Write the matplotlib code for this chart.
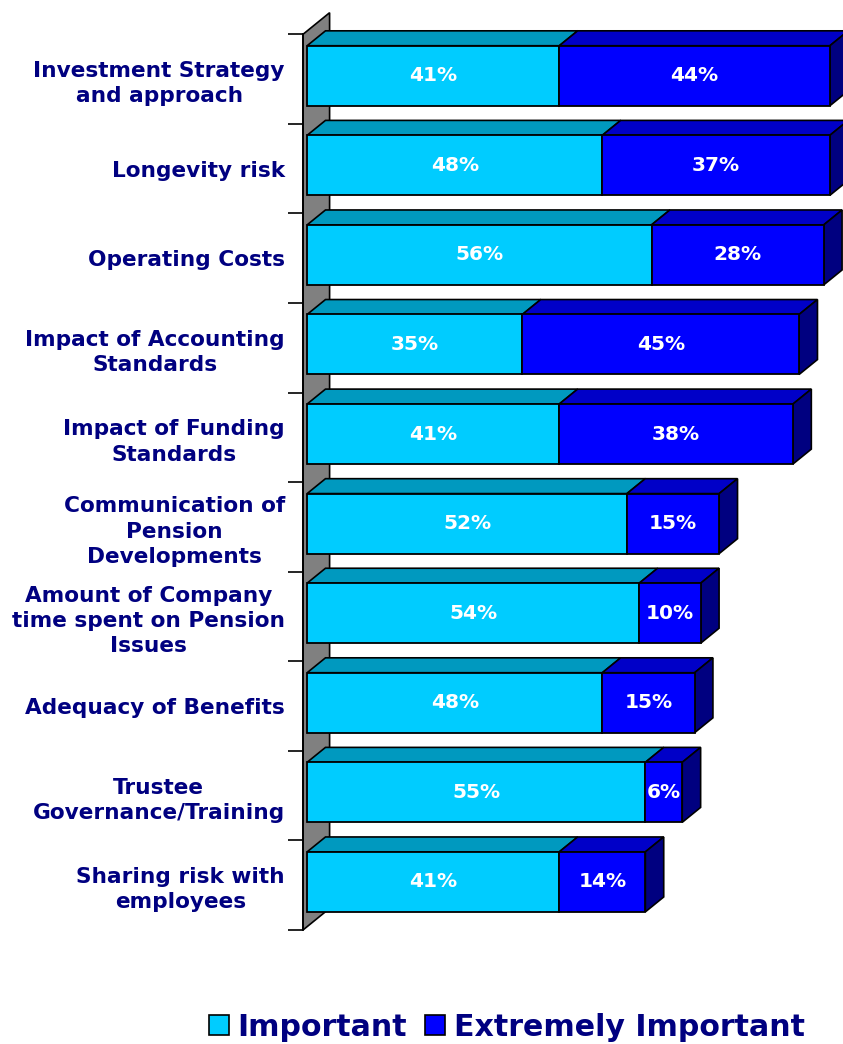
import numpy as np
import matplotlib
matplotlib.use("Agg")
import matplotlib.pyplot as plt
from matplotlib.patches import Polygon, Patch

# Survey results: share of respondents rating each issue
categories = [
    "Investment Strategy\nand approach",
    "Longevity risk",
    "Operating Costs",
    "Impact of Accounting\nStandards",
    "Impact of Funding\nStandards",
    "Communication of\nPension\nDevelopments",
    "Amount of Company\ntime spent on Pension\nIssues",
    "Adequacy of Benefits",
    "Trustee\nGovernance/Training",
    "Sharing risk with\nemployees",
]
important = [41, 48, 56, 35, 41, 52, 54, 48, 55, 41]
extremely_important = [44, 37, 28, 45, 38, 15, 10, 15, 6, 14]
series_names = ["Important", "Extremely Important"]

# Colours: front / top / side faces per series
front_cols = ["#00CCFF", "#0000FF"]
top_cols = ["#0099BF", "#0000C8"]
side_cols = ["#008099", "#000080"]
wall_col = "#808080"
text_col = "#000080"

plt.rcParams["font.family"] = ["DejaVu Sans"]

W, H = 843, 1044
fig = plt.figure(figsize=(W / 100, H / 100), dpi=100)
px_per_pct = 6.15
top_px, bot_px, left_px = 34.3, 930.0, 303.0
ax = fig.add_axes([left_px / W, (H - bot_px) / H, (W - left_px) / W, (bot_px - top_px) / H])
n = len(categories)
ax.set_xlim(0, (W - left_px) / px_per_pct)
ax.set_ylim(n - 0.5, -0.5)

# 3-D depth expressed in data units (full depth of the floor/wall)
slot_px = (bot_px - top_px) / n
DX = 26.6 / px_per_pct
DY = -21.6 / slot_px
d_front, d_back = 0.155, 0.845
bar_h = 0.67

# back wall
wall = Polygon([(0, -0.5), (DX, -0.5 + DY), (DX, n - 0.5 + DY), (0, n - 0.5)],
               closed=True, facecolor=wall_col, edgecolor="black", lw=1.2,
               clip_on=False, zorder=1)
ax.add_patch(wall)

fx, fy = DX * d_front, DY * d_front
bx, by = DX * d_back, DY * d_back
y = np.arange(n)
imp = np.array(important, dtype=float)
ext = np.array(extremely_important, dtype=float)
segments = [(np.zeros(n), imp), (imp, ext)]

for s, (lefts, widths) in enumerate(segments):
    for i in range(n):
        x0 = lefts[i] + fx
        x1 = lefts[i] + widths[i] + fx
        yt = y[i] - bar_h / 2 + fy
        yb = y[i] + bar_h / 2 + fy
        sx, sy = bx - fx, by - fy
        top = Polygon([(x0, yt), (x1, yt), (x1 + sx, yt + sy), (x0 + sx, yt + sy)],
                      closed=True, facecolor=top_cols[s], edgecolor="black",
                      lw=1.2, clip_on=False, zorder=2)
        ax.add_patch(top)
        if s == len(segments) - 1:
            side = Polygon([(x1, yt), (x1 + sx, yt + sy), (x1 + sx, yb + sy), (x1, yb)],
                           closed=True, facecolor=side_cols[s], edgecolor="black",
                           lw=1.2, clip_on=False, zorder=2)
            ax.add_patch(side)
    bars = ax.barh(y + fy, widths, left=lefts + fx, height=bar_h,
                   color=front_cols[s], edgecolor="black", lw=1.3,
                   zorder=3, clip_on=False)
    for i, b in enumerate(bars):
        ax.text(lefts[i] + widths[i] / 2 + fx, y[i] + fy, f"{widths[i]:.0f}%",
                ha="center", va="center", color="white", fontsize=14.5,
                fontweight="bold", zorder=4, clip_on=False)

# axes decoration
for sp in ["top", "right", "bottom"]:
    ax.spines[sp].set_visible(False)
ax.spines["left"].set_linewidth(1.3)
ax.spines["left"].set_zorder(1.5)
ax.set_xticks([])
ax.set_yticks(np.arange(-0.5, n, 1))
ax.set_yticklabels([])
ax.tick_params(axis="y", which="major", length=10.8, width=1.2, direction="out")
ax.set_yticks(y, minor=True)
ax.set_yticklabels(categories, minor=True)
ax.tick_params(axis="y", which="minor", length=0, pad=13)
for t in ax.get_yticklabels(minor=True):
    t.set_fontsize(15.6)
    t.set_fontweight("bold")
    t.set_color(text_col)
    t.set_multialignment("center")
    t.set_linespacing(1.33)

handles = [Patch(facecolor=c, edgecolor="black", lw=1.2) for c in front_cols]
leg = fig.legend(handles, series_names, loc="center", ncol=2,
                 bbox_to_anchor=(507 / W, 17 / H), frameon=False,
                 prop={"weight": "bold", "size": 21.6}, labelcolor=text_col,
                 handlelength=0.66, handleheight=0.66, handletextpad=0.3,
                 columnspacing=0.6, borderaxespad=0)

fig.savefig("out.png", dpi=100)
